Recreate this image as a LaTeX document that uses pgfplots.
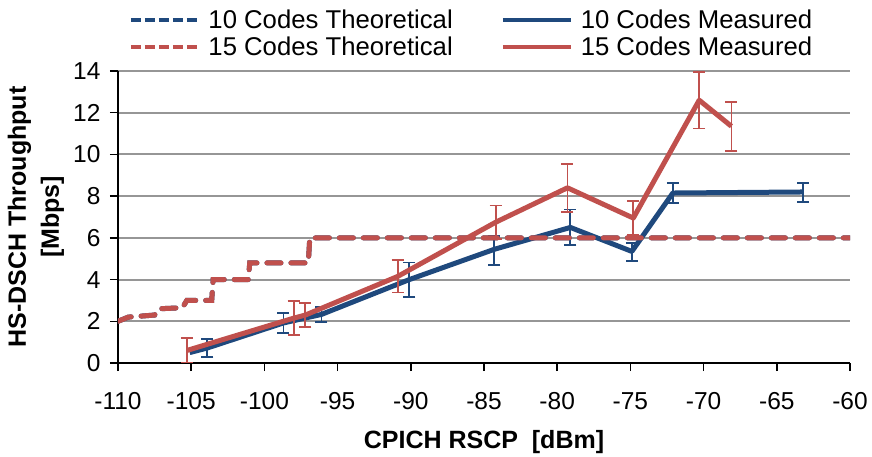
\documentclass[border=0pt]{standalone}
\usepackage{fontspec}
\setmainfont{Liberation Sans}
\usepackage{pgfplots}
\usepackage{pgfplotstable}
\pgfplotsset{compat=1.18}
\definecolor{cblue}{RGB}{31,73,125}
\definecolor{cred}{RGB}{192,80,77}
\definecolor{cgrid}{RGB}{150,150,150}

\pgfplotstableread{
x y
-110.0 2.0
-109.3 2.2
-107.5 2.3
-107.2 2.6
-105.6 2.65
-105.3 3.0
-103.6 3.0
-103.5 4.0
-101.1 4.0
-101.0 4.8
-97.0 4.8
-96.9 6.0
-60.0 6.0
}\theory

\pgfplotstableread{
x y
-105.1 0.5
-103.9 0.72
-98.7 1.92
-96.1 2.33
-90.1 4.0
-84.3 5.45
-79.1 6.5
-74.9 5.35
-72.1 8.15
-63.2 8.2
}\blueline

\pgfplotstableread{
x y e
-103.9 0.72 0.43
-98.7 1.92 0.48
-96.1 2.33 0.36
-90.1 4.0 0.82
-84.3 5.4 0.70
-79.1 6.5 0.86
-74.9 5.32 0.43
-72.1 8.15 0.48
-63.2 8.18 0.45
}\blueerr

\pgfplotstableread{
x y e
-105.3 0.6 0.58
-98.0 2.15 0.82
-97.2 2.3 0.58
-90.9 4.15 0.77
-84.2 6.75 0.80
-79.3 8.4 1.15
-74.8 6.95 0.82
-70.3 12.6 1.36
-68.1 11.35 1.18
}\red

\begin{document}
\begin{tikzpicture}
\begin{axis}[
  at={(0pt,0pt)}, anchor=south west,
  scale only axis, width=732pt, height=292pt,
  xmin=-110, xmax=-60, ymin=0, ymax=14,
  xtick={-110,-105,...,-60}, ytick={0,2,...,14},
  axis lines*=left,
  axis line style={black, line width=2pt},
  ymajorgrids, grid style={cgrid, line width=2pt},
  tick style={black, line width=1.5pt}, major tick length=8pt, tick align=outside,
  tick label style={font=\fontsize{24.5}{28}\selectfont},
  /pgf/number format/assume math mode=true,
  xticklabel style={yshift=-18pt},
  yticklabel style={xshift=-6pt},
  xlabel={\textbf{CPICH RSCP \ [dBm]}},
  xlabel style={font=\fontsize{25}{28}\selectfont, at={(axis description cs:0.5,-0.272)}, anchor=center},
  ylabel={\textbf{HS-DSCH Throughput}\\\textbf{[Mbps]}},
  ylabel style={font=\fontsize{25}{33}\selectfont, align=center, at={(axis description cs:-0.112,0.5)}, anchor=center},
  legend columns=2,
  legend cell align=left,
  legend style={at={(axis description cs:0.015,1.04)}, anchor=south west, draw=none, fill=none, inner sep=0pt,
    font=\fontsize{25.7}{28}\selectfont, row sep=3pt,
    /tikz/every odd column/.append style={column sep=6pt},
    /tikz/every even column/.append style={column sep=46pt}},
  legend image code/.code={\draw[#1] (0pt,0pt) -- (68pt,0pt);},
]
\addlegendimage{cblue, line width=3.3pt, dash pattern=on 10pt off 4pt}
\addlegendentry{10 Codes Theoretical}
\addlegendimage{cblue, line width=4pt}
\addlegendentry{10 Codes Measured}
\addlegendimage{cred, line width=3.3pt, dash pattern=on 10pt off 4pt}
\addlegendentry{15 Codes Theoretical}
\addlegendimage{cred, line width=4pt}
\addlegendentry{15 Codes Measured}

% 10 codes measured
\addplot[forget plot, cblue, line width=5pt, line join=round] table[x=x,y=y] {\blueline};
\addplot[forget plot, draw=none, mark=none,
  error bars/.cd, y dir=both, y explicit,
  error bar style={cblue, line width=1.8pt},
  error mark options={cblue, rotate=90, mark size=6pt, line width=1.8pt}]
  table[x=x,y=y,y error=e] {\blueerr};
% theoretical
\addplot[forget plot, cblue, line width=5pt, dash pattern=on 14pt off 10pt, line cap=round] table[x=x,y=y] {\theory};
\addplot[forget plot, cred, line width=5pt, dash pattern=on 14pt off 10pt, line cap=round] table[x=x,y=y] {\theory};
% 15 codes measured
\addplot[forget plot, cred, line width=5pt, line join=round] table[x=x,y=y] {\red};
\addplot[forget plot, draw=none, mark=none,
  error bars/.cd, y dir=both, y explicit,
  error bar style={cred, line width=1.8pt},
  error mark options={cred, rotate=90, mark size=6pt, line width=1.8pt}]
  table[x=x,y=y,y error=e] {\red};
\end{axis}
\pgfresetboundingbox
\path[use as bounding box] (-118pt,-93pt) rectangle (754pt,363pt);
\end{tikzpicture}
\end{document}
